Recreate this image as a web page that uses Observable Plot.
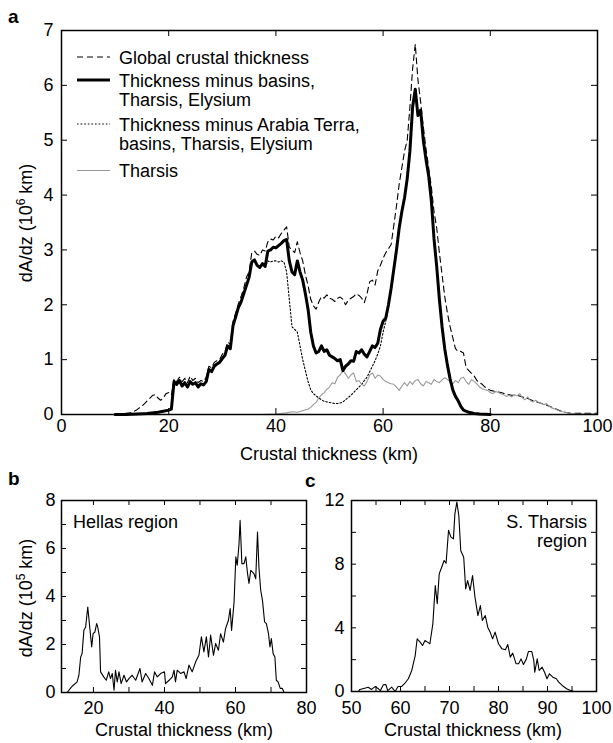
<!DOCTYPE html>
<html><head><meta charset="utf-8">
<script src="https://cdn.jsdelivr.net/npm/d3@7"></script>
<script src="https://cdn.jsdelivr.net/npm/@observablehq/plot@0.6"></script>
<style>
body{margin:0;background:#fff;}
#root{position:relative;width:613px;height:743px;overflow:hidden;}
#root svg{position:absolute;}
</style></head><body><div id="root"></div>
<script>
// ---------- Panel a data: [crustal thickness km, dA/dz (10^6 km)] ----------
const globalThickness = [[10,0],[11,0.01],[12,0.02],[13,0.03],[14,0.08],[14.5,0.12],[15,0.15],[15.5,0.2],[16,0.25],[16.5,0.3],[17,0.35],[17.5,0.36],[18,0.3],[18.5,0.26],[19,0.3],[19.5,0.38],[20,0.4],[20.5,0.35],[21,0.65],[21.5,0.6],[22,0.68],[22.5,0.6],[23,0.66],[23.5,0.58],[24,0.7],[24.5,0.62],[25,0.66],[25.5,0.58],[26,0.62],[26.5,0.6],[27,0.68],[27.5,0.88],[28,0.85],[28.5,0.95],[29,0.98],[29.5,1.0],[30,1.1],[30.5,1.15],[31,1.32],[31.5,1.28],[32,1.7],[32.5,1.85],[33,2.02],[33.5,2.15],[34,2.3],[34.5,2.5],[35,2.6],[35.5,2.95],[36,2.98],[36.5,2.92],[37,2.9],[37.5,3.0],[38,2.98],[38.5,3.15],[39,3.2],[39.5,3.18],[40,3.25],[40.5,3.22],[41,3.3],[41.5,3.36],[42,3.42],[42.5,3.05],[43,3.0],[43.5,2.95],[44,3.15],[44.5,2.95],[45,2.8],[45.5,2.55],[46,2.35],[46.5,2.1],[47,1.98],[47.5,1.92],[48,2.05],[48.5,2.15],[49,2.12],[49.5,2.18],[50,2.12],[50.5,2.1],[51,2.06],[51.5,2.12],[52,2.14],[52.5,2.1],[53,2.0],[53.5,2.08],[54,2.12],[54.5,2.15],[55,2.2],[55.5,2.17],[56,2.12],[56.5,2.04],[57,2.2],[57.5,2.42],[58,2.45],[58.5,2.36],[59,2.62],[59.5,2.72],[60,2.85],[60.5,2.95],[61,3.02],[61.5,3.1],[62,3.45],[62.5,3.8],[63,4.2],[63.5,4.5],[64,4.8],[64.5,5.0],[65,5.6],[65.5,6.3],[66,6.75],[66.5,6.1],[67,5.7],[67.5,5.25],[68,4.85],[68.5,4.5],[69,4.15],[69.5,3.7],[70,3.4],[70.5,2.95],[71,2.55],[71.5,2.15],[72,1.85],[72.5,1.6],[73,1.4],[73.5,1.2],[74,1.15],[74.5,1.15],[75,1.12],[75.5,0.85],[76,0.8],[76.5,0.75],[77,0.7],[77.5,0.62],[78,0.58],[78.5,0.55],[79,0.5],[79.5,0.47],[80,0.44],[81,0.42],[82,0.4],[83,0.37],[84,0.35],[85,0.35],[86,0.32],[87,0.29],[88,0.25],[89,0.22],[90,0.19],[91,0.15],[92,0.11],[93,0.07],[94,0.04],[95,0.02],[96,0.02],[98,0.02],[100,0.02]];

const minusBasins = [[10,0],[12,0],[14,0.01],[16,0.02],[18,0.04],[19,0.06],[20,0.08],[20.5,0.1],[21,0.6],[21.5,0.55],[22,0.62],[22.5,0.52],[23,0.58],[23.5,0.5],[24,0.6],[24.5,0.55],[25,0.58],[25.5,0.5],[26,0.56],[26.5,0.54],[27,0.6],[27.5,0.82],[28,0.78],[28.5,0.88],[29,0.92],[29.5,0.95],[30,1.02],[30.5,1.08],[31,1.25],[31.5,1.2],[32,1.62],[32.5,1.78],[33,1.95],[33.5,2.05],[34,2.2],[34.5,2.35],[35,2.5],[35.5,2.78],[36,2.82],[36.5,2.72],[37,2.68],[37.5,2.75],[38,2.7],[38.5,2.98],[39,3.0],[39.5,3.05],[40,3.04],[40.5,3.08],[41,3.12],[41.5,3.17],[42,3.19],[42.5,2.8],[43,2.6],[43.5,2.55],[44,2.8],[44.5,2.6],[45,2.45],[45.5,2.2],[46,1.92],[46.5,1.5],[47,1.25],[47.5,1.12],[48,1.15],[48.5,1.25],[49,1.15],[49.5,1.18],[50,1.08],[50.5,1.05],[51,1.02],[51.5,0.98],[52,1.0],[52.5,0.8],[53,0.88],[53.5,0.92],[54,0.98],[54.5,0.97],[55,1.15],[55.5,1.12],[56,1.18],[56.5,1.1],[57,1.05],[57.5,1.15],[58,1.25],[58.5,1.22],[59,1.3],[59.5,1.55],[60,1.7],[60.5,1.76],[61,2.0],[61.5,2.3],[62,2.65],[62.5,3.0],[63,3.4],[63.5,3.7],[64,3.95],[64.5,4.3],[65,4.8],[65.5,5.6],[66,5.93],[66.5,5.45],[67,5.55],[67.5,5.0],[68,4.65],[68.5,4.35],[69,3.9],[69.5,3.2],[70,2.7],[70.5,2.1],[71,1.6],[71.5,1.2],[72,0.9],[72.5,0.65],[73,0.45],[73.5,0.33],[74,0.25],[74.5,0.15],[75,0.08],[76,0.04],[77,0.02],[78,0.01],[80,0]];

const minusArabia = [[37,2.68],[37.5,2.75],[38,2.7],[38.5,2.8],[39,2.78],[39.5,2.8],[40,2.8],[40.5,2.78],[41,2.8],[41.5,2.78],[42,2.6],[42.5,2.1],[43,1.6],[43.5,1.55],[44,1.5],[44.5,1.25],[45,1.0],[45.5,0.8],[46,0.6],[46.5,0.45],[47,0.38],[47.5,0.34],[48,0.3],[48.5,0.27],[49,0.24],[49.5,0.23],[50,0.22],[50.5,0.21],[51,0.2],[51.5,0.2],[52,0.21],[52.5,0.23],[53,0.27],[53.5,0.31],[54,0.35],[54.5,0.4],[55,0.45],[55.5,0.5],[56,0.55],[56.5,0.62],[57,0.68],[57.5,0.78],[58,0.88],[58.5,0.98],[59,1.1],[59.5,1.25],[60,1.5],[60.5,1.7],[61,1.95],[61.5,2.3],[62,2.65]];

const tharsis = [[10,0],[20,0],[30,0],[38,0],[40,0.01],[42,0.03],[43,0.05],[44,0.04],[45,0.07],[46,0.1],[46.5,0.13],[47,0.18],[47.5,0.22],[48,0.3],[48.5,0.36],[49,0.4],[49.5,0.46],[50,0.5],[50.5,0.58],[51,0.56],[51.5,0.68],[52,0.72],[52.5,0.8],[53,0.74],[53.5,0.66],[54,0.72],[54.5,0.76],[55,0.6],[55.5,0.62],[56,0.55],[56.5,0.52],[57,0.6],[57.5,0.72],[58,0.76],[58.5,0.66],[59,0.72],[59.5,0.7],[60,0.64],[60.5,0.6],[61,0.58],[61.5,0.56],[62,0.55],[62.5,0.5],[63,0.44],[63.5,0.52],[64,0.58],[64.5,0.52],[65,0.6],[65.5,0.55],[66,0.62],[66.5,0.64],[67,0.56],[67.5,0.52],[68,0.6],[68.5,0.58],[69,0.55],[69.5,0.64],[70,0.6],[70.5,0.58],[71,0.63],[71.5,0.67],[72,0.64],[72.5,0.6],[73,0.56],[73.5,0.62],[74,0.58],[74.5,0.66],[75,0.68],[75.5,0.6],[76,0.55],[76.5,0.64],[77,0.6],[77.5,0.56],[78,0.5],[78.5,0.47],[79,0.45],[79.5,0.44],[80,0.4],[80.5,0.38],[81,0.42],[81.5,0.4],[82,0.38],[82.5,0.36],[83,0.33],[83.5,0.35],[84,0.32],[84.5,0.36],[85,0.34],[85.5,0.38],[86,0.3],[86.5,0.27],[87,0.32],[87.5,0.25],[88,0.23],[88.5,0.26],[89,0.22],[89.5,0.2],[90,0.18],[90.5,0.2],[91,0.15],[91.5,0.12],[92,0.1],[92.5,0.08],[93,0.06],[94,0.04],[95,0.02],[96,0.01],[98,0.01],[100,0.01]];

// ---------- Panel b data: Hellas region [km, dA/dz (10^5 km)] ----------
const hellas = [[11,0],[12.6,0],[13.5,0.17],[14,0.26],[15.4,0.44],[15.9,0.72],[16.4,1.48],[16.8,1.62],[17.3,2.59],[17.8,2.73],[18.4,3.56],[18.9,2.8],[19.5,1.9],[19.9,2.45],[20.4,2.52],[20.9,2.87],[21.2,2.73],[21.7,2.32],[22,0.86],[22.9,0.65],[23.6,0.51],[24.3,0.86],[24.8,0.58],[25.3,0.79],[25.8,0.1],[26.2,0.93],[26.7,0.44],[27.2,0.86],[27.8,0.37],[28.6,0.72],[29.3,0.44],[30,0.58],[30.9,0.72],[31.9,0.51],[33.1,1.0],[33.7,0.44],[34.7,0.79],[35.6,0.58],[36.6,0.3],[37.2,0.86],[38,0.65],[38.9,0.79],[40,0.86],[40.3,0.37],[41.3,0.51],[42.2,0.65],[42.7,0.93],[43.1,0.44],[43.6,0.93],[44.6,0.79],[45.5,0.86],[46.1,0.58],[46.9,1.14],[47.8,0.86],[48.8,1.28],[49.7,1.55],[50.4,2.32],[51.1,1.69],[51.8,2.32],[52.4,1.48],[53,2.39],[53.8,1.55],[54.4,2.04],[55.2,1.76],[55.8,2.45],[56.6,2.1],[57.2,2.66],[58,3.0],[58.5,3.5],[58.9,2.59],[59.6,3.77],[60.1,5.65],[60.5,5.3],[61,6.2],[61.3,7.17],[61.8,5.37],[62.4,5.37],[62.9,5.65],[63.4,4.95],[63.8,4.54],[64.3,5.09],[65.2,4.95],[65.7,4.74],[66.2,6.69],[66.6,5.23],[67.1,4.26],[67.6,3.84],[68.2,2.94],[68.7,2.87],[69.3,2.45],[69.7,1.9],[70.1,2.25],[70.6,1.62],[71.1,1.48],[71.5,0.51],[72,0.44],[72.6,0.17],[73.2,0.17],[73.7,0],[80,0]];

// ---------- Panel c data: S. Tharsis region [km, dA/dz (10^5 km)] ----------
const sTharsis = [[50,0],[51.4,0],[51.7,0.13],[52.7,0.21],[53.4,0.27],[54.1,0.13],[54.8,0.31],[55.5,0.17],[55.9,0.06],[56.5,0.42],[57,0.44],[57.4,0.06],[58.2,0.27],[58.9,0],[59.5,0.31],[60.2,0.31],[60.9,0.52],[61.6,0.8],[62.3,1.32],[63,2.26],[63.4,3.31],[64,3.1],[64.5,2.89],[65,3.2],[65.5,3.1],[66,3.0],[66.6,4.25],[67.1,6.66],[67.5,5.51],[67.9,7.39],[68.4,7.81],[68.9,8.23],[69.3,8.06],[69.8,10.12],[70.3,9.7],[70.8,9.59],[71.1,11.16],[71.5,11.9],[71.9,11.06],[72.3,8.84],[72.9,8.44],[73.3,6.45],[73.7,6.97],[74.2,6.35],[74.7,7.29],[75.2,5.93],[75.8,4.77],[76.3,5.4],[76.7,4.46],[77.3,4.77],[77.8,4.04],[78.3,3.73],[78.8,3.31],[79.3,3.73],[80,3.0],[80.7,2.68],[81.4,2.62],[81.9,2.95],[82.4,2.16],[82.9,2.41],[83.6,1.74],[84.1,1.74],[84.6,2.05],[85.1,1.7],[85.7,2.05],[86.1,2.51],[86.8,2.51],[87.2,1.95],[87.4,1.21],[87.9,2.05],[88.3,1.32],[88.9,1.53],[89.4,1.21],[89.9,0.8],[90.4,1.11],[91.1,0.9],[91.8,0.8],[92.3,0.59],[93,0.38],[93.9,0.17],[94.7,0.06],[95.4,0],[100,0]];

// ---------- Tick values and labels ----------
const aXTicks = [0,20,40,60,80,100];
const aYTicks = [0,1,2,3,4,5,6,7];
const bXTicks = [20,40,60,80];
const bXMinor = [20,30,40,50,60,70];
const bYTicks = [0,2,4,6,8];
const bYMinor = [1,2,3,4,5,6,7];
const cXTicks = [50,60,70,80,90,100];
const cXMinor = [55,60,65,70,75,80,85,90,95];
const cYTicks = [0,4,8,12];
const cYMinor = [2,4,6,8,10];
const legendEntries = [
  {lines:["Global crustal thickness"], style:"dashed"},
  {lines:["Thickness minus basins,","Tharsis, Elysium"], style:"thick"},
  {lines:["Thickness minus Arabia Terra,","basins, Tharsis, Elysium"], style:"dotted"},
  {lines:["Tharsis"], style:"gray"}
];
const xLabel = "Crustal thickness (km)";

// ---------- helpers ----------
const FONT = '"Liberation Sans", Arial, Helvetica, sans-serif';
const fmt = d => String(d);
const styles = {
  dashed: {stroke:"#000", strokeWidth:1.1, strokeDasharray:"6,4"},
  thick: {stroke:"#000", strokeWidth:3},
  dotted: {stroke:"#000", strokeWidth:1.1, strokeDasharray:"1.6,2"},
  gray: {stroke:"#999", strokeWidth:1.1}
};
function inwardTicks(xd, yd, xt, yt, w, h, len) {
  const dx = len*(xd[1]-xd[0])/w, dy = len*(yd[1]-yd[0])/h;
  const o = {stroke:"#000", strokeWidth:1};
  return [
    Plot.ruleX(xt, {x:d=>d, y1:yd[0], y2:yd[0]+dy, ...o}),
    Plot.ruleX(xt, {x:d=>d, y1:yd[1]-dy, y2:yd[1], ...o}),
    Plot.ruleY(yt, {y:d=>d, x1:xd[0], x2:xd[0]+dx, ...o}),
    Plot.ruleY(yt, {y:d=>d, x1:xd[1]-dx, x2:xd[1], ...o})
  ];
}
function place(svg, left, top) {
  svg.style.left = left + "px"; svg.style.top = top + "px";
  document.getElementById("root").appendChild(svg);
}
const X = d=>d[0], Y = d=>d[1];
const svgStyle = {background:"transparent", fontFamily:FONT, fontSize:"18px", color:"#000", overflow:"visible"};

// ---------- Panel a ----------
{
  const W=613,H=470,ml=61,mr=16,mt=30,mb=56;
  const xd=[0,100], yd=[0,7];
  const p = Plot.plot({
    width:W, height:H, marginLeft:ml, marginRight:mr, marginTop:mt, marginBottom:mb,
    style:svgStyle,
    x:{domain:xd, ticks:aXTicks, tickFormat:fmt, tickSize:0, tickPadding:5, label:null},
    y:{domain:yd, ticks:aYTicks, tickFormat:fmt, tickSize:0, tickPadding:8, label:null},
    marks:[
      Plot.line(globalThickness, {x:X, y:Y, ...styles.dashed}),
      Plot.line(minusArabia, {x:X, y:Y, ...styles.dotted}),
      Plot.line(tharsis, {x:X, y:Y, ...styles.gray}),
      Plot.line(minusBasins, {x:X, y:Y, ...styles.thick, strokeLinejoin:"round"}),
      ...inwardTicks(xd, yd, aXTicks, aYTicks, W-ml-mr, H-mt-mb, 6),
      Plot.frame({stroke:"#000", strokeWidth:1.5})
    ]
  });
  place(p, 0, 0);
}
// ---------- Panel b ----------
{
  const W=310,H=273,ml=61,mr=4,mt=30,mb=51;
  const xd=[11,80], yd=[0,8];
  const p = Plot.plot({
    width:W, height:H, marginLeft:ml, marginRight:mr, marginTop:mt, marginBottom:mb,
    style:svgStyle,
    x:{domain:xd, ticks:bXTicks, tickFormat:fmt, tickSize:0, tickPadding:9, label:null},
    y:{domain:yd, ticks:bYTicks, tickFormat:fmt, tickSize:0, tickPadding:6, label:null},
    marks:[
      Plot.line(hellas, {x:X, y:Y, stroke:"#000", strokeWidth:1.1}),
      ...inwardTicks(xd, yd, bXMinor, bYMinor, W-ml-mr, H-mt-mb, 5),
      Plot.frame({stroke:"#000", strokeWidth:1.5})
    ]
  });
  place(p, 0, 470);
}
// ---------- Panel c ----------
{
  const W=313,H=273,ml=51,mr=17,mt=30,mb=52;
  const xd=[50,100], yd=[0,12];
  const p = Plot.plot({
    width:W, height:H, marginLeft:ml, marginRight:mr, marginTop:mt, marginBottom:mb,
    style:svgStyle,
    x:{domain:xd, ticks:cXTicks, tickFormat:fmt, tickSize:0, tickPadding:10, label:null},
    y:{domain:yd, ticks:cYTicks, tickFormat:fmt, tickSize:0, tickPadding:7, label:null},
    marks:[
      Plot.line(sTharsis, {x:X, y:Y, stroke:"#000", strokeWidth:1.1}),
      ...inwardTicks(xd, yd, cXMinor, cYMinor, W-ml-mr, H-mt-mb, 5),
      Plot.frame({stroke:"#000", strokeWidth:1.5})
    ]
  });
  place(p, 300, 470);
}

// ---------- Overlay: panel letters, axis titles, legend, annotations ----------
{
  const svg = d3.create("svg").attr("width",613).attr("height",743)
    .style("left","0px").style("top","0px").style("pointer-events","none")
    .attr("font-family", FONT).attr("font-size", 18).attr("fill","#000");
  const bold = [["a",8,23],["b",8,485],["c",305,487]];
  bold.forEach(([t,x,y]) => svg.append("text").attr("x",x).attr("y",y).attr("font-weight","bold").attr("font-size",19).text(t));
  [[329,460],[184,736],[473,736]].forEach(([x,y]) =>
    svg.append("text").attr("x",x).attr("y",y).attr("text-anchor","middle").text(xLabel));
  [[31.5,223,"6"],[32,598,"5"]].forEach(([x,y,e]) => {
    const t = svg.append("text").attr("transform",`translate(${x},${y}) rotate(-90)`).attr("text-anchor","middle");
    t.append("tspan").text("dA/dz (10");
    t.append("tspan").attr("dy",-7).attr("font-size",12).text(e);
    t.append("tspan").attr("dy",7).text(" km)");
  });
  const lineX1 = 77, lineX2 = 110, textX = 119;
  const baselines = [[64],[87,106],[131,150],[177]];
  const lineYs = [57,80,124,170.5];
  legendEntries.forEach((e,i) => {
    const s = styles[e.style];
    svg.append("line").attr("x1",lineX1).attr("x2",lineX2).attr("y1",lineYs[i]).attr("y2",lineYs[i])
      .attr("stroke",s.stroke).attr("stroke-width",s.strokeWidth).attr("stroke-dasharray",s.strokeDasharray||null);
    e.lines.forEach((l,j) => svg.append("text").attr("x",textX).attr("y",baselines[i][j]).text(l));
  });
  svg.append("text").attr("x",73).attr("y",528).text("Hellas region");
  svg.append("text").attr("x",587).attr("y",528).attr("text-anchor","end").text("S. Tharsis");
  svg.append("text").attr("x",587).attr("y",547).attr("text-anchor","end").text("region");
  place(svg.node(), 0, 0);
}
</script></body></html>
